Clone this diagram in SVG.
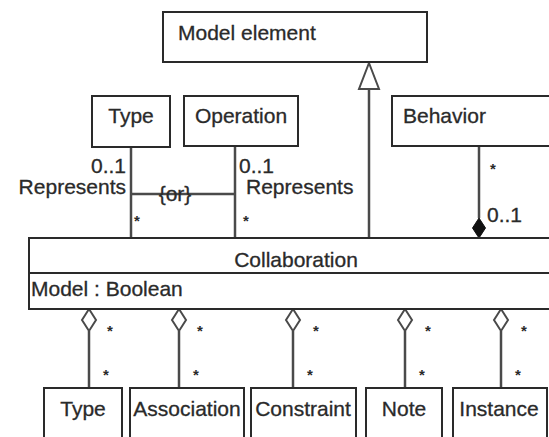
<svg xmlns="http://www.w3.org/2000/svg" width="549" height="437" viewBox="0 0 549 437">
  <style>
    .box { fill: #ffffff; stroke: #2a2a2a; stroke-width: 2; }
    .sep { stroke: #2a2a2a; stroke-width: 2; fill: none; }
    .lbl { font-family: "Liberation Sans", Arial, sans-serif; font-size: 21px; fill: #2a2a2a; stroke: #2a2a2a; stroke-width: 0.3; }
    .mid { text-anchor: middle; }
    .end { text-anchor: end; }
    .mult { font-family: "Liberation Sans", Arial, sans-serif; font-size: 21px; fill: #2a2a2a; stroke: #2a2a2a; stroke-width: 0.3; }
    .star { font-family: "Liberation Sans", Arial, sans-serif; font-size: 15px; font-weight: bold; fill: #2a2a2a; text-anchor: middle; }
    .line { stroke: #4a4a4a; stroke-width: 2.5; fill: none; }
    .hollow { fill: #ffffff; stroke: #4a4a4a; stroke-width: 2; }
    .solid { fill: #111111; stroke: #111111; stroke-width: 1; }
  </style>

  <rect width="549" height="437" fill="#ffffff"/>

  <!-- connectors -->
  <g id="connectors">
    <!-- generalization to Model element -->
    <line class="line" x1="369" y1="89" x2="369" y2="238"/>
    <polygon class="hollow" points="369,63 379,89 359,89"/>
    <!-- Represents associations -->
    <line class="line" x1="131" y1="147" x2="131" y2="238"/>
    <line class="line" x1="235" y1="146" x2="235" y2="238"/>
    <line class="line" x1="131" y1="194" x2="235" y2="194"/>
    <!-- Behavior composition -->
    <line class="line" x1="479" y1="146" x2="479" y2="218"/>
    <polygon class="solid" points="479,218 485.5,228 479,238 472.5,228"/>
    <!-- aggregations below Collaboration -->
    <line class="line" x1="89" y1="331" x2="89" y2="388"/>
    <polygon class="hollow" points="89,309 96,320 89,331 82,320"/>
    <line class="line" x1="179" y1="331" x2="179" y2="388"/>
    <polygon class="hollow" points="179,309 186,320 179,331 172,320"/>
    <line class="line" x1="293" y1="331" x2="293" y2="388"/>
    <polygon class="hollow" points="293,309 300,320 293,331 286,320"/>
    <line class="line" x1="405" y1="331" x2="405" y2="388"/>
    <polygon class="hollow" points="405,309 412,320 405,331 398,320"/>
    <line class="line" x1="501" y1="331" x2="501" y2="388"/>
    <polygon class="hollow" points="501,309 508,320 501,331 494,320"/>

    <!-- association labels -->
    <text class="mult end" x="126" y="173">0..1</text>
    <text class="mult end" x="126" y="194">Represents</text>
    <text class="mult" x="239" y="173">0..1</text>
    <text class="mult" x="246" y="194">Represents</text>
    <text class="mult mid" x="175" y="201">{or}</text>
    <text class="star" x="137" y="226">*</text>
    <text class="star" x="246" y="226">*</text>
    <text class="star" x="493" y="174">*</text>
    <text class="mult" x="487" y="222">0..1</text>

    <text class="star" x="110" y="336">*</text>
    <text class="star" x="200" y="336">*</text>
    <text class="star" x="316" y="336">*</text>
    <text class="star" x="428" y="336">*</text>
    <text class="star" x="524" y="336">*</text>
    <text class="star" x="106" y="380">*</text>
    <text class="star" x="196" y="380">*</text>
    <text class="star" x="310" y="380">*</text>
    <text class="star" x="422" y="380">*</text>
    <text class="star" x="518" y="380">*</text>
  </g>

  <g id="model-element">
    <rect class="box" x="163" y="12" width="264" height="50"/>
    <text class="lbl" x="178" y="40">Model element</text>
  </g>

  <g id="type-top">
    <rect class="box" x="92" y="96" width="78" height="51"/>
    <text class="lbl mid" x="131" y="123">Type</text>
  </g>

  <g id="operation">
    <rect class="box" x="184" y="96" width="114" height="50"/>
    <text class="lbl mid" x="241" y="123">Operation</text>
  </g>

  <g id="behavior">
    <rect class="box" x="392" y="96" width="170" height="50"/>
    <text class="lbl" x="403" y="123">Behavior</text>
  </g>

  <g id="collaboration">
    <rect class="box" x="29" y="238" width="540" height="71"/>
    <line class="sep" x1="29" y1="273" x2="549" y2="273"/>
    <text class="lbl mid" x="296" y="267">Collaboration</text>
    <text class="lbl" x="31" y="296">Model : Boolean</text>
  </g>

  <g id="type-part">
    <rect class="box" x="44" y="388" width="78" height="60"/>
    <text class="lbl mid" x="83" y="416">Type</text>
  </g>

  <g id="association">
    <rect class="box" x="130" y="388" width="114" height="60"/>
    <text class="lbl mid" x="187" y="416">Association</text>
  </g>

  <g id="constraint">
    <rect class="box" x="251" y="388" width="105" height="60"/>
    <text class="lbl mid" x="303" y="416">Constraint</text>
  </g>

  <g id="note">
    <rect class="box" x="366" y="388" width="76" height="60"/>
    <text class="lbl mid" x="404" y="416">Note</text>
  </g>

  <g id="instance">
    <rect class="box" x="453" y="388" width="94" height="60"/>
    <text class="lbl mid" x="499" y="416">Instance</text>
  </g>
</svg>
